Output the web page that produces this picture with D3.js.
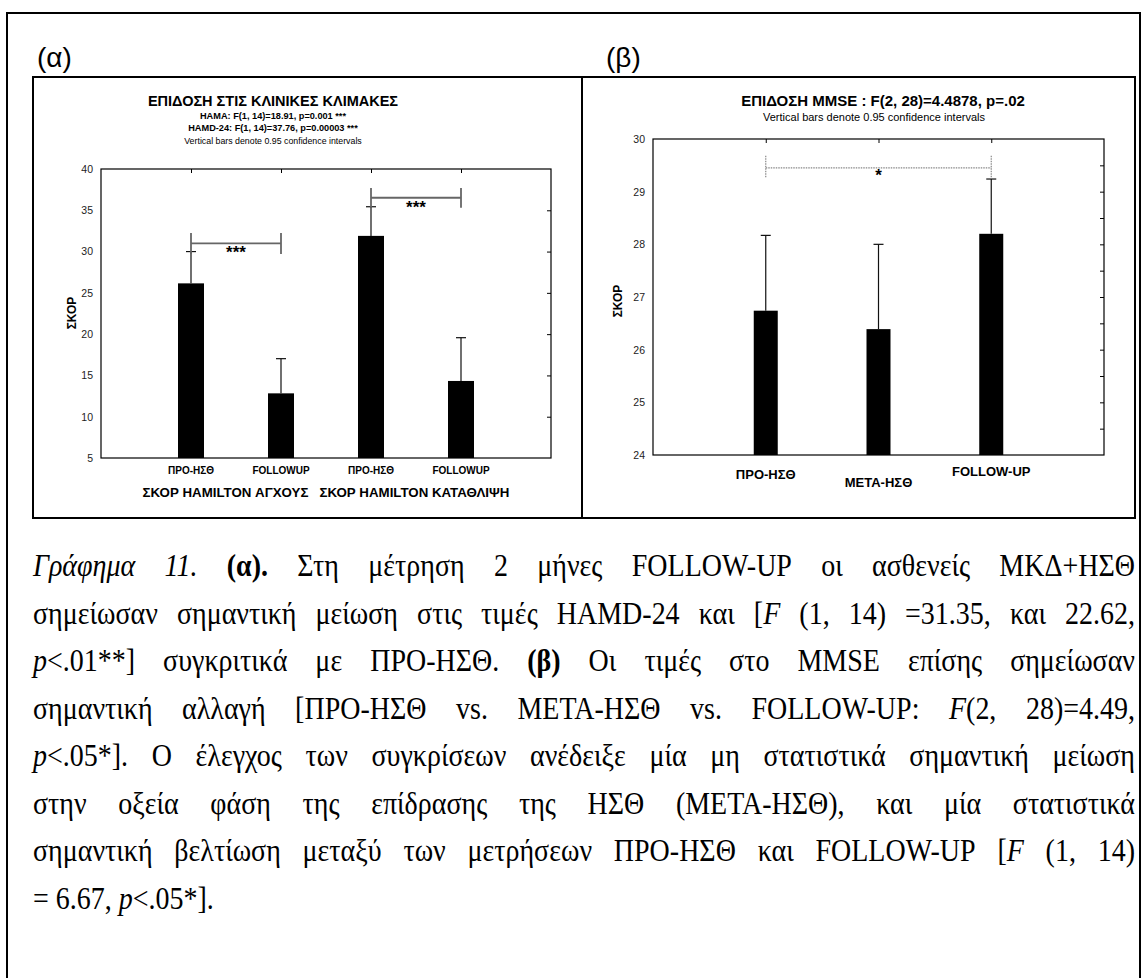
<!DOCTYPE html>
<html><head><meta charset="utf-8">
<script src="https://cdn.jsdelivr.net/npm/d3@7"></script>
<style>body{margin:0;background:#fff;}</style></head>
<body>
<script>
// ---------- DATA ----------
const leftCategories = ["ΠΡΟ-ΗΣΘ","FOLLOWUP","ΠΡΟ-ΗΣΘ","FOLLOWUP"];
const leftMeans = [26.15, 12.83, 31.9, 14.33];
const leftUpper = [30.0, 17.03, 35.43, 19.57];
const leftYTicks = [5,10,15,20,25,30,35,40];
const leftGroupLabel = "ΣΚΟΡ HAMILTON ΑΓΧΟΥΣ   ΣΚΟΡ HAMILTON ΚΑΤΑΘΛΙΨΗ";
const leftTitles = ["ΕΠΙΔΟΣΗ ΣΤΙΣ ΚΛΙΝΙΚΕΣ ΚΛΙΜΑΚΕΣ","HAMA: F(1, 14)=18.91, p=0.001 ***","HAMD-24: F(1, 14)=37.76, p=0.00003 ***","Vertical bars denote 0.95 confidence intervals"];
const leftBrackets = [{a:1,b:2,y:31.0,top:32.25,bot:29.7,label:"***"},{a:3,b:4,y:36.52,top:37.7,bot:35.3,label:"***"}];

const rightCategories = ["ΠΡΟ-ΗΣΘ","ΜΕΤΑ-ΗΣΘ","FOLLOW-UP"];
const rightMeans = [26.74, 26.39, 28.2];
const rightUpper = [28.17, 28.0, 29.24];
const rightYTicks = [24,25,26,27,28,29,30];
const rightMinorTicks = [24.5,25,25.5,26,26.5,27,27.5,28,28.5,29,29.5];
const rightTitles = ["ΕΠΙΔΟΣΗ MMSE : F(2, 28)=4.4878, p=.02","Vertical bars denote 0.95 confidence intervals"];
const rightBracket = {a:1,b:3,y:29.45,top:29.68,bot:29.26,label:"*"};

const captionLines = [
 '<i>Γράφημα 11.</i> <b>(α).</b> Στη μέτρηση 2 μήνες FOLLOW-UP οι ασθενείς ΜΚΔ+ΗΣΘ',
 'σημείωσαν σημαντική μείωση στις τιμές HAMD-24 και [<i>F</i> (1, 14) =31.35, και 22.62,',
 '<i>p</i>&lt;.01**] συγκριτικά με ΠΡΟ-ΗΣΘ. <b>(β)</b> Οι τιμές στο MMSE επίσης σημείωσαν',
 'σημαντική αλλαγή [ΠΡΟ-ΗΣΘ vs. ΜΕΤΑ-ΗΣΘ vs. FOLLOW-UP: <i>F</i>(2, 28)=4.49,',
 '<i>p</i>&lt;.05*]. Ο έλεγχος των συγκρίσεων ανέδειξε μία μη στατιστικά σημαντική μείωση',
 'στην οξεία φάση της επίδρασης της ΗΣΘ (ΜΕΤΑ-ΗΣΘ), και μία στατιστικά',
 'σημαντική βελτίωση μεταξύ των μετρήσεων ΠΡΟ-ΗΣΘ και FOLLOW-UP [<i>F</i> (1, 14)',
 '= 6.67, <i>p</i>&lt;.05*].'
];

// ---------- DRAW ----------
const W=1147,H=978;
const svg=d3.select("body").append("svg").attr("width",W).attr("height",H);
const FONT="Liberation Sans";
const SERIF="Liberation Serif";

svg.append("rect").attr("x",7).attr("y",13).attr("width",1133).attr("height",1100)
  .attr("fill","none").attr("stroke","#000").attr("stroke-width",2);
svg.append("rect").attr("x",33).attr("y",77).attr("width",1102).attr("height",441)
  .attr("fill","none").attr("stroke","#000").attr("stroke-width",2);
svg.append("line").attr("x1",582).attr("x2",582).attr("y1",77).attr("y2",518)
  .attr("stroke","#000").attr("stroke-width",2);

svg.append("text").attr("x",37).attr("y",67).attr("font-family",FONT).attr("font-size",28).text("(α)");
svg.append("text").attr("x",606).attr("y",67).attr("font-family",FONT).attr("font-size",28).text("(β)");

function drawChart(cfg){
  const g=svg.append("g");
  const x=d3.scaleLinear().domain(cfg.xDomain).range([cfg.x0,cfg.x1]);
  const y=d3.scaleLinear().domain(cfg.yDomain).range([cfg.y1,cfg.y0]);
  cfg.titles.forEach((t,i)=>{
    g.append("text").attr("x",cfg.titleX[i]).attr("y",cfg.titleY[i]).attr("text-anchor","middle")
     .attr("dominant-baseline","central").attr("font-family",FONT)
     .attr("font-size",cfg.titleSize[i]).attr("font-weight",cfg.titleBold[i]?"bold":"normal").text(t);
  });
  g.append("rect").attr("x",cfg.x0).attr("y",cfg.y0).attr("width",cfg.x1-cfg.x0).attr("height",cfg.y1-cfg.y0)
   .attr("fill","none").attr("stroke","#000").attr("stroke-width",1.2);
  const ya=g.append("g").attr("transform",`translate(${cfg.x0},0)`)
   .call(d3.axisLeft(y).tickValues(cfg.yTicks).tickSize(0).tickPadding(8).tickFormat(d3.format("d")));
  ya.select(".domain").remove();
  ya.attr("font-family",null);
  ya.selectAll("text").attr("font-family",FONT).attr("font-size",10.5).attr("fill","#222");
  const yr=g.append("g").attr("transform",`translate(${cfg.x1},0)`)
   .call(d3.axisLeft(y).tickValues(cfg.rightTicks).tickSize(4).tickFormat(""));
  yr.select(".domain").remove();
  yr.selectAll("line").attr("stroke","#000");
  const xt=g.append("g").attr("transform",`translate(0,${cfg.y0})`)
   .call(d3.axisBottom(x).tickValues(cfg.cats.map((c,i)=>i+1)).tickSize(4).tickFormat(""));
  xt.select(".domain").remove();
  xt.selectAll("line").attr("stroke","#000");
  g.selectAll(".bar").data(cfg.means).enter().append("rect")
   .attr("x",(d,i)=>x(i+1)-cfg.barW/2).attr("width",cfg.barW)
   .attr("y",d=>y(d)).attr("height",d=>y(cfg.yDomain[0])-y(d)).attr("fill","#000");
  cfg.upper.forEach((u,i)=>{
    g.append("line").attr("x1",x(i+1)).attr("x2",x(i+1)).attr("y1",y(cfg.means[i])).attr("y2",y(u))
     .attr("stroke","#111").attr("stroke-width",1.2);
    g.append("line").attr("x1",x(i+1)-5).attr("x2",x(i+1)+5).attr("y1",y(u)).attr("y2",y(u))
     .attr("stroke","#111").attr("stroke-width",1.2);
  });
  cfg.brackets.forEach(b=>{
    const add=(x1,x2,y1,y2)=>{const l=g.append("line").attr("x1",x1).attr("x2",x2).attr("y1",y1).attr("y2",y2)
      .attr("stroke",cfg.bracketColor).attr("stroke-width",cfg.bracketW);
      if(cfg.bracketDash) l.attr("stroke-dasharray",cfg.bracketDash);};
    add(x(b.a),x(b.b),y(b.y),y(b.y));
    add(x(b.a),x(b.a),y(b.top),y(b.bot));
    add(x(b.b),x(b.b),y(b.top),y(b.bot));
    g.append("text").attr("x",(x(b.a)+x(b.b))/2).attr("y",y(b.y)+cfg.starDy).attr("text-anchor","middle")
     .attr("font-family",FONT).attr("font-size",cfg.starSize).attr("font-weight","bold").text(b.label);
  });
  cfg.cats.forEach((c,i)=>{
    g.append("text").attr("x",x(i+1)).attr("y",cfg.catY[i]).attr("text-anchor","middle")
     .attr("dominant-baseline","central").attr("font-family",FONT).attr("font-size",cfg.catSize)
     .attr("font-weight","bold").text(c);
  });
  g.append("text").attr("transform",`translate(${cfg.yTitleX},${cfg.yTitleY}) rotate(-90)`)
   .attr("text-anchor","middle").attr("dominant-baseline","central").attr("font-family",FONT)
   .attr("font-size",12).attr("font-weight","bold").text("ΣΚΟΡ");
  return {g,x,y};
}

const L=drawChart({
  xDomain:[0,5],yDomain:[5,40],x0:101,x1:551,y0:169,y1:458,
  titles:leftTitles,titleX:[273,273,273,273],titleY:[101,116,128,141],titleSize:[14.5,9.2,9.2,8.8],titleBold:[1,1,1,0],
  yTicks:leftYTicks,rightTicks:leftYTicks.slice(1,-1),cats:leftCategories,means:leftMeans,upper:leftUpper,
  barW:26,brackets:leftBrackets,bracketColor:"#666",bracketW:1.8,bracketDash:null,starDy:15,starSize:17,
  catY:[470,470,470,470],catSize:10,yTitleX:72,yTitleY:313
});
L.g.append("text").attr("x",(101+551)/2).attr("y",492).attr("text-anchor","middle").attr("dominant-baseline","central")
 .attr("font-family",FONT).attr("font-size",13.3).attr("font-weight","bold").style("white-space","pre")
 .text(leftGroupLabel);

drawChart({
  xDomain:[0,4],yDomain:[24,30],x0:653,x1:1104,y0:139,y1:455,
  titles:rightTitles,titleX:[883,874],titleY:[100,117],titleSize:[15,11],titleBold:[1,0],
  yTicks:rightYTicks,rightTicks:rightMinorTicks,cats:rightCategories,means:rightMeans,upper:rightUpper,
  barW:24,brackets:[rightBracket],bracketColor:"#888",bracketW:1.2,bracketDash:"1.5,1",starDy:13,starSize:17,
  catY:[474,482,471],catSize:13,yTitleX:618,yTitleY:301
});

// ---------- caption (justified, per word) ----------
function parseLine(s){
  const runs=[];let st={i:false,b:false};const re=/<(\/?)([ib])>/g;let last=0,m;
  while((m=re.exec(s))){ if(m.index>last) runs.push({t:s.slice(last,m.index),i:st.i,b:st.b});
    st=Object.assign({},st);st[m[2]]=!m[1];last=re.lastIndex;}
  if(last<s.length) runs.push({t:s.slice(last),i:st.i,b:st.b});
  runs.forEach(r=>r.t=r.t.replace(/&lt;/g,"<"));
  const words=[];let cur=[];
  runs.forEach(r=>{
    r.t.split(" ").forEach((p,k)=>{
      if(k>0){ if(cur.length) words.push(cur); cur=[]; }
      if(p.length) cur.push({t:p,i:r.i,b:r.b});
    });
  });
  if(cur.length) words.push(cur);
  return words;
}
const CAP_SIZE=28, CAP_X0=33, CAP_X1=1135, CAP_Y0=576, CAP_DY=47.5, CAP_SY=1.12;
const capG=svg.append("g");
const probe=(s)=>{const t=capG.append("text").attr("font-family",SERIF).attr("font-size",CAP_SIZE).style("white-space","pre").text(s);
  const w=t.node().getComputedTextLength();t.remove();return w;};
const spaceW=probe("a a")-probe("aa");
captionLines.forEach((line,li)=>{
  const words=parseLine(line);
  const lg=capG.append("g").attr("transform",`translate(0,${CAP_Y0+li*CAP_DY}) scale(1,${CAP_SY})`);
  const els=words.map(w=>{
    const t=lg.append("text").attr("y",0).attr("font-family",SERIF).attr("font-size",CAP_SIZE);
    w.forEach(r=>t.append("tspan").attr("font-family",SERIF).attr("font-style",r.i?"italic":null)
      .attr("font-weight",r.b?"bold":null).text(r.t));
    return t;
  });
  const widths=els.map(e=>e.node().getComputedTextLength());
  const total=d3.sum(widths);
  const justify=li<captionLines.length-1;
  const gap=justify?(CAP_X1-CAP_X0-total)/(els.length-1):spaceW;
  let xx=CAP_X0;
  els.forEach((e,k)=>{e.attr("x",xx);xx+=widths[k]+gap;});
});
</script></body></html>
